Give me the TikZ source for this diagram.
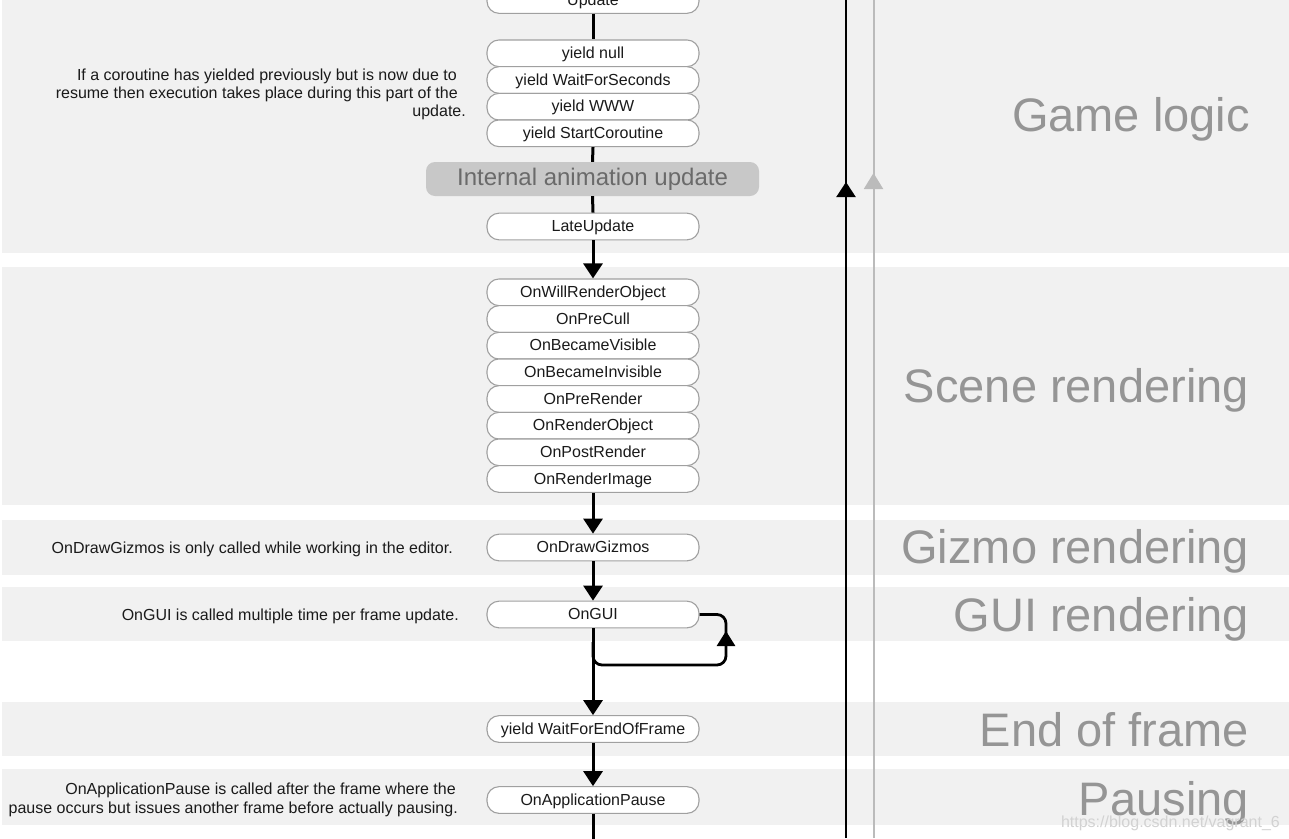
\documentclass[tikz,border=0pt]{standalone}
\usepackage{fontspec}
\setmainfont{Liberation Sans}
\usetikzlibrary{arrows.meta}
\definecolor{bandgray}{HTML}{F1F1F1}
\definecolor{labelgray}{HTML}{959595}
\definecolor{boxborder}{HTML}{A0A0A0}
\definecolor{animfill}{HTML}{C8C8C8}
\definecolor{animtext}{HTML}{6A6A6A}
\definecolor{lightline}{HTML}{BBBBBB}
\definecolor{wmark}{HTML}{D2D2D2}
\definecolor{nodetext}{HTML}{1A1A1A}
\tikzset{
  band/.style={fill=bandgray, draw=none},
  evbox/.style={draw=boxborder, fill=white, line width=1.1pt, rounded corners=12pt,
    minimum width=212pt, minimum height=26.67pt, inner sep=0pt,
    text height=12pt, text depth=2pt, text=nodetext,
    font=\fontsize{16}{19}\selectfont},
  animbox/.style={fill=animfill, draw=none, rounded corners=9pt,
    minimum width=333pt, minimum height=34pt, inner sep=0pt,
    text height=17pt, text depth=5pt, text=animtext,
    font=\fontsize{24}{28}\selectfont},
  seclabel/.style={anchor=base east, inner sep=0pt, text=labelgray,
    font=\fontsize{47}{50}\selectfont},
  comment/.style={anchor=base east, inner sep=0pt, text=nodetext,
    font=\fontsize{16}{19}\selectfont},
  flowline/.style={line width=3pt, draw=black},
  flowarrow/.style={flowline, -{Triangle[width=19pt,length=15pt]}},
  loopline/.style={line width=2.8pt, draw=black, rounded corners=9pt},
  sideline/.style={line width=2.2pt, draw=black},
  sidegray/.style={line width=2pt, draw=lightline},
}
\begin{document}
\begin{tikzpicture}[x=1pt,y=-1pt]
\clip (0,0) rectangle (1289,838);
\fill[white] (0,0) rectangle (1289,838);
% bands
\fill[band] (2,0) rectangle (1289,253);
\fill[band] (2,267) rectangle (1289,505);
\fill[band] (2,520) rectangle (1289,575);
\fill[band] (2,587) rectangle (1289,641);
\fill[band] (2,702) rectangle (1289,756);
\fill[band] (2,769) rectangle (1289,825);

% section labels
\node[seclabel] (lgame) at (1250,131) {Game logic};
\node[seclabel] (lscene) at (1249,402) {Scene rendering};
\node[seclabel] (lgizmo) at (1249,563) {Gizmo rendering};
\node[seclabel] (lgui) at (1249,631) {GUI rendering};
\node[seclabel] (leof) at (1249,746) {End of frame};
\node[seclabel] (lpause) at (1249,815) {Pausing};

% right side vertical lines
\coordinate (bltop) at (846,0);
\coordinate (blbot) at (846,838);
\coordinate (blmid) at (846,182);
\coordinate (blmid2) at (846,186);
\draw[sideline, -{Triangle[width=19pt,length=15pt]}] (blbot) -- (blmid);
\draw[sideline] (blmid2) -- (bltop);
\coordinate (gltop) at (873.5,0);
\coordinate (glbot) at (873.5,838);
\coordinate (glmid) at (873.5,173);
\coordinate (glmid2) at (873.5,177);
\draw[sidegray, -{Triangle[width=19pt,length=16pt]}] (glbot) -- (glmid);
\draw[sidegray] (glmid2) -- (gltop);

% nodes
\node[evbox] (upd) at (593,0) {Update};
\node[evbox] (ynull) at (593,53.3) {yield null};
\node[evbox] (ywfs) at (593,80) {yield WaitForSeconds};
\node[evbox] (ywww) at (593,106.7) {yield WWW};
\node[evbox] (ysc) at (593,133.3) {yield StartCoroutine};
\node[animbox] (anim) at (592.5,179) {Internal animation update};
\node[evbox] (late) at (593,226.5) {LateUpdate};

\node[evbox] (s1) at (593,292.3) {OnWillRenderObject};
\node[evbox] (s2) at (593,319.0) {OnPreCull};
\node[evbox] (s3) at (593,345.7) {OnBecameVisible};
\node[evbox] (s4) at (593,372.3) {OnBecameInvisible};
\node[evbox] (s5) at (593,399.0) {OnPreRender};
\node[evbox] (s6) at (593,425.7) {OnRenderObject};
\node[evbox] (s7) at (593,452.3) {OnPostRender};
\node[evbox] (s8) at (593,479.0) {OnRenderImage};

\node[evbox] (gizmos) at (593,547.5) {OnDrawGizmos};
\node[evbox] (ongui) at (593,614.5) {OnGUI};
\node[evbox] (eof) at (593,729) {yield WaitForEndOfFrame};
\node[evbox] (pause) at (593,800) {OnApplicationPause};
\coordinate (mainbot) at (593,845);

% connectors
\draw[flowline] (upd.south) -- (ynull.north);
\draw[flowline] (ysc.south) -- (anim.north);
\draw[flowline] (anim.south) -- (late.north);
\draw[flowarrow] (late.south) -- (s1.north);
\draw[flowarrow] (s8.south) -- (gizmos.north);
\draw[flowarrow] (gizmos.south) -- (ongui.north);
\draw[flowarrow] (ongui.south) -- (eof.north);
\draw[flowarrow] (eof.south) -- (pause.north);
\draw[flowline] (pause.south) -- (mainbot);

% OnGUI loop
\coordinate (loopa) at (593,642);
\coordinate (loopb) at (593,665);
\coordinate (loopc) at (726,665);
\coordinate (loopd) at (726,631);
\coordinate (loope) at (726,636);
\coordinate (loopf) at (726,614.5);
\draw[loopline, -{Triangle[width=18pt,length=15pt]}] (loopa) -- (loopb) -- (loopc) -- (loopd);
\draw[loopline] (loope) -- (loopf) -- (ongui.east);

% comments
\node[comment] (c1a) at (457,80) {If a coroutine has yielded previously but is now due to};
\node[comment] (c1b) at (458,98) {resume then execution takes place during this part of the};
\node[comment] (c1c) at (466,116) {update.};
\node[comment] (c2) at (453,553) {OnDrawGizmos is only called while working in the editor.};
\node[comment] (c3) at (459,620) {OnGUI is called multiple time per frame update.};
\node[comment] (c4a) at (456,794) {OnApplicationPause is called after the frame where the};
\node[comment] (c4b) at (458,813) {pause occurs but issues another frame before actually pausing.};

% watermark
\node[anchor=base east, inner sep=0pt, text=wmark, font=\fontsize{16}{19}\selectfont] (wm) at (1280,827) {https://blog.csdn.net/vagrant\_6};
\end{tikzpicture}
\end{document}
